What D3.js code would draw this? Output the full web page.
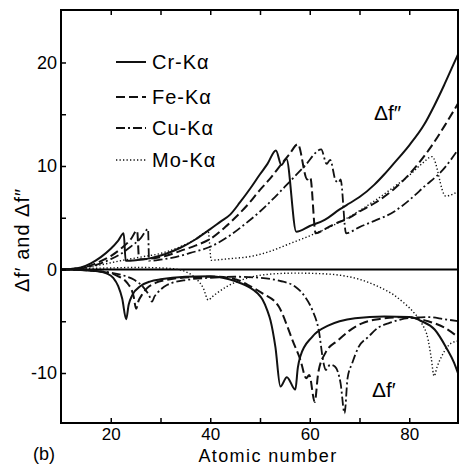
<!DOCTYPE html>
<html>
<head>
<meta charset="utf-8">
<script src="https://cdn.jsdelivr.net/npm/d3@7"></script>
<style>
  body { margin: 0; background: #fff; }
  svg { display: block; font-family: "Liberation Sans", Arial, sans-serif; }
</style>
</head>
<body>
<svg width="459" height="467"></svg>
<script>
// Delta f'' (positive branch), [Z, value]
let crFpp = [[10,0],[12,0.05],[14,0.2],[16,0.6],[18,1.2],[20,2.0],[21.5,2.8],[22.6,3.5],[23.0,0.85],[25,0.9],[28,1.1],[31,1.5],[34,2.1],[37,2.9],[40,3.9],[42,4.6],[44,5.3],[46,6.5],[48,7.8],[50,9.2],[51.5,10.2],[53.2,11.5],[54.3,10.1],[55.3,10.7],[57.3,3.65],[60,4.2],[63,4.8],[66,5.8],[68,6.4],[70,7.0],[73,8.2],[75,9.2],[77,10.3],[80,12.0],[83,14.0],[85,15.8],[87,17.8],[88.5,19.4],[90,21.0]];
let feFpp = [[10,0],[12,0.05],[14,0.15],[16,0.4],[18,0.8],[20,1.3],[22,2.0],[24,2.9],[25.3,3.75],[25.7,1.0],[28,1.05],[31,1.3],[34,1.8],[37,2.3],[40,2.95],[43,4.1],[45,5.0],[47.8,6.4],[50,7.7],[51.8,8.65],[54.5,10.3],[56,11.2],[57.6,12.1],[59.5,8.7],[60.1,8.9],[61.2,3.5],[63,3.9],[65,4.4],[68,5.0],[70,5.6],[73,6.4],[77,7.8],[80,9.2],[84,11.6],[87,13.8],[90,16.2]];
let cuFpp = [[10,0],[14,0.1],[16,0.3],[18,0.6],[20,1.0],[22,1.5],[24,2.2],[26,3.0],[27.5,3.9],[27.7,0.85],[30,0.95],[33,1.2],[36,1.6],[40,2.2],[44,3.3],[47,4.4],[50,5.6],[53,7.0],[56,8.5],[59,10.0],[62.3,11.6],[63.4,10.2],[64.1,10.6],[65.2,8.6],[65.8,8.4],[66.2,8.7],[67.3,3.5],[70,4.1],[73,4.7],[77,5.6],[80,6.7],[83,8.0],[86.7,9.6],[90,11.7]];
let moFpp = [[10,0],[14,0.15],[18,0.45],[22,0.85],[26,1.2],[30,1.55],[34,2.2],[37,2.9],[39.6,3.65],[40.2,0.9],[44,1.05],[48,1.25],[52,1.75],[56,2.5],[60,3.25],[64,4.1],[68,5.1],[72,6.3],[77,8.0],[80,9.1],[82.5,10.2],[84.6,10.9],[87.3,7.1],[90,7.6]];

// Delta f' (negative branch), [Z, value]
let crFp = [[10,0],[14,-0.05],[17,-0.15],[19,-0.35],[20.5,-0.8],[21.5,-1.6],[22.3,-2.8],[23.1,-4.8],[23.6,-3.4],[24.3,-2.5],[26,-1.6],[28,-1.15],[30,-0.95],[35,-0.7],[40,-0.65],[43.8,-0.95],[46,-1.3],[47.8,-1.7],[49.5,-2.3],[50.5,-2.9],[51.5,-4.0],[52.1,-4.9],[53.1,-7.5],[54.1,-11.3],[55.4,-10.4],[57.1,-11.6],[57.6,-9.5],[58.1,-8.4],[60.5,-6.5],[63.8,-5.4],[66,-5.0],[69.1,-4.7],[75,-4.55],[80,-4.6],[82.5,-5.0],[85.1,-5.8],[87.5,-7.6],[89,-9.0],[90,-10.3]];
let feFp = [[10,0],[15,-0.05],[18,-0.2],[21,-0.55],[23.3,-1.3],[24.6,-2.6],[25.1,-3.8],[25.6,-3.0],[26.2,-2.5],[27.3,-1.8],[29,-1.3],[31.3,-1.0],[36,-0.75],[41,-0.7],[45,-0.95],[48,-1.6],[50.5,-2.3],[53.8,-3.6],[55.5,-5.5],[56.5,-6.8],[58.1,-8.7],[59.3,-10.5],[59.9,-10.2],[61,-12.8],[61.7,-10.0],[63.1,-8.1],[65.8,-6.8],[68,-5.9],[70.5,-5.2],[73.8,-4.8],[79,-4.6],[83.8,-5.0],[87,-5.6],[90,-6.6]];
let cuFp = [[10,0],[16,-0.1],[20,-0.3],[23,-0.65],[24.7,-1.0],[26.7,-1.8],[27.7,-2.5],[28.3,-3.1],[28.8,-2.6],[29.3,-2.3],[31.3,-1.5],[35.3,-1.0],[40,-0.8],[45,-0.7],[50,-0.8],[54,-1.1],[57.1,-1.66],[59,-2.6],[60.5,-3.9],[61.8,-5.85],[62.8,-9.1],[63.2,-9.7],[64.1,-9.2],[65.1,-9.4],[66.2,-11.0],[67,-13.9],[67.6,-10.5],[68.5,-9.1],[69.8,-7.5],[71.8,-6.5],[73.8,-5.6],[75.8,-5.2],[79.8,-4.7],[84,-4.6],[87,-4.8],[90,-5.0]];
let moFp = [[10,0],[15,0.1],[20,0.15],[25,0.2],[30,0.15],[33,0.05],[35,-0.2],[37.3,-0.95],[38.6,-1.8],[39.6,-2.95],[40.5,-2.6],[41.3,-2.3],[43.5,-1.6],[47.3,-0.85],[52,-0.45],[57,-0.35],[62,-0.4],[66,-0.55],[70,-0.95],[73.8,-1.66],[77,-2.5],[79.1,-3.3],[81,-4.2],[82.5,-5.2],[83.8,-6.8],[84.4,-8.5],[85,-10.3],[85.6,-9.4],[86.5,-8.4],[88.5,-7.1],[90,-6.9]];

let legendLabels = ["Cr-K\u03b1", "Fe-K\u03b1", "Cu-K\u03b1", "Mo-K\u03b1"];
let xTickLabels = [20, 40, 60, 80];
let yTickLabels = [-10, 0, 10, 20];

let svg = d3.select("svg");
let mLeft = 61, mRight = 458, mTop = 10, mBottom = 423;

let x = d3.scaleLinear().domain([10, 90]).range([mLeft, 459]);
let y = d3.scaleLinear().domain([-14.83, 25.07]).range([mBottom, mTop]);

// line styles per radiation (Cr, Fe, Cu, Mo)
let styles = [
  {dash: null, width: 2},
  {dash: "9,4", width: 2},
  {dash: "9,3,2,3", width: 1.8},
  {dash: "1.3,2.2", width: 1.4}
];

svg.append("clipPath").attr("id", "clip")
  .append("rect").attr("x", mLeft).attr("y", mTop)
  .attr("width", mRight - mLeft).attr("height", mBottom - mTop);

let plot = svg.append("g").attr("clip-path", "url(#clip)");

// zero line
plot.append("line")
  .attr("x1", x(10)).attr("x2", x(90))
  .attr("y1", y(0)).attr("y2", y(0))
  .attr("stroke", "#000").attr("stroke-width", 2);

let line = d3.line()
  .x(d => x(d[0]))
  .y(d => y(d[1]))
  .curve(d3.curveMonotoneX);

let series = [crFpp, feFpp, cuFpp, moFpp, crFp, feFp, cuFp, moFp];
series.forEach(function (s, i) {
  let st = styles[i % 4];
  plot.append("path")
    .datum(s)
    .attr("d", line)
    .attr("fill", "none")
    .attr("stroke", "#111")
    .attr("stroke-width", st.width)
    .attr("stroke-dasharray", st.dash)
    .attr("stroke-linejoin", "round");
});

// frame
svg.append("rect")
  .attr("x", mLeft).attr("y", mTop)
  .attr("width", mRight - mLeft).attr("height", mBottom - mTop)
  .attr("fill", "none").attr("stroke", "#000").attr("stroke-width", 2);

// axes
let yAxis = d3.axisLeft(y)
  .tickValues(d3.range(-10, 25, 5))
  .tickSizeInner(-5).tickSizeOuter(0).tickPadding(4)
  .tickFormat(d => yTickLabels.includes(d) ? String(d) : "");
let gy = svg.append("g").attr("transform", "translate(" + mLeft + ",0)").call(yAxis);

let xAxis = d3.axisBottom(x)
  .tickValues(d3.range(20, 90, 10))
  .tickSizeInner(-5).tickSizeOuter(0).tickPadding(4)
  .tickFormat(d => xTickLabels.includes(d) ? String(d) : "");
let gx = svg.append("g").attr("transform", "translate(0," + mBottom + ")").call(xAxis);

let xTop = d3.axisTop(x)
  .tickValues(d3.range(20, 90, 10))
  .tickSizeInner(-5).tickSizeOuter(0)
  .tickFormat("");
let gt = svg.append("g").attr("transform", "translate(0," + mTop + ")").call(xTop);

[gy, gx, gt].forEach(function (g) {
  g.select(".domain").remove();
  g.selectAll(".tick line").attr("stroke", "#000").attr("stroke-width", 1.5);
  g.selectAll("text").attr("fill", "#000")
    .attr("font-size", 18).attr("font-family", "Liberation Sans, Arial, sans-serif");
});
gx.selectAll("text").attr("font-size", 17).attr("dy", "0.75em");

// legend
let legend = svg.append("g");
let legendY = [62, 97, 128, 160];
legendLabels.forEach(function (lab, i) {
  let st = styles[i];
  legend.append("line")
    .attr("x1", 116).attr("x2", 146)
    .attr("y1", legendY[i]).attr("y2", legendY[i])
    .attr("stroke", "#111").attr("stroke-width", st.width)
    .attr("stroke-dasharray", st.dash);
  legend.append("text")
    .attr("x", 152).attr("y", legendY[i] + 7)
    .attr("font-size", 20).attr("letter-spacing", 1)
    .text(lab);
});

// labels
svg.append("text").attr("x", 374).attr("y", 120)
  .attr("font-size", 21).text("\u0394f\u2033");
svg.append("text").attr("x", 372).attr("y", 397)
  .attr("font-size", 21).text("\u0394f\u2032");

svg.append("text")
  .attr("transform", "translate(29,240) rotate(-90)")
  .attr("text-anchor", "middle")
  .attr("font-size", 20).attr("letter-spacing", 1)
  .text("\u0394f\u2032 and \u0394f\u2033");

svg.append("text").attr("x", 268).attr("y", 462)
  .attr("text-anchor", "middle")
  .attr("font-size", 18).attr("letter-spacing", 1.4)
  .text("Atomic number");

svg.append("text").attr("x", 33).attr("y", 460)
  .attr("font-size", 18).text("(b)");
</script>
</body>
</html>
